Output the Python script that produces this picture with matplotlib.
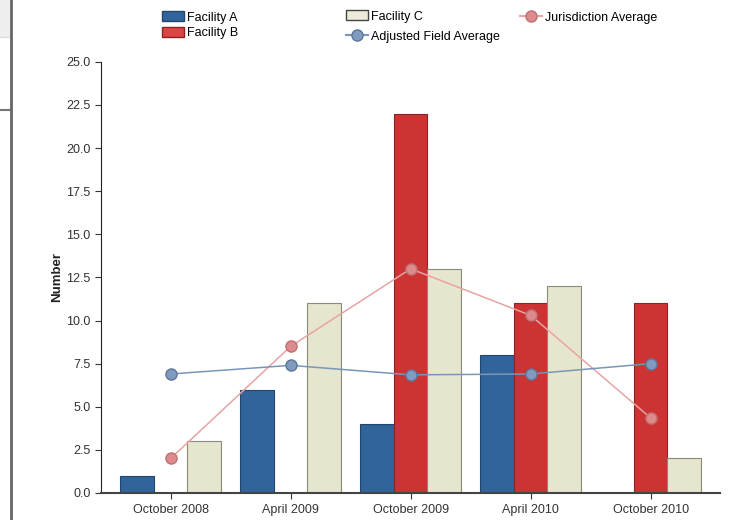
import numpy as np
import matplotlib
matplotlib.use("Agg")
import matplotlib.pyplot as plt
from matplotlib.patches import Patch, Rectangle
from matplotlib.lines import Line2D

plt.rcParams['font.family'] = ['Liberation Sans', 'DejaVu Sans']

periods = ['October 2008', 'April 2009', 'October 2009', 'April 2010', 'October 2010']
facility_a = [1, 6, 4, 8, 0]
facility_b = [0, 0, 22, 11, 11]
facility_c = [3, 11, 13, 12, 2]
jurisdiction_avg = [2.0, 8.5, 13.0, 10.3, 4.35]
field_avg = [6.9, 7.4, 6.85, 6.9, 7.5]
y_ticks = [0.0, 2.5, 5.0, 7.5, 10.0, 12.5, 15.0, 17.5, 20.0, 22.5, 25.0]

col_a = '#31649a'
col_b = '#cc3333'
col_c = '#e6e6cf'
col_jur = '#e8a3a3'
col_field = '#7896b8'

fig = plt.figure(figsize=(7.32, 5.2), dpi=100)
ax = fig.add_axes([0.138, 0.052, 0.846, 0.829])

x = np.arange(len(periods))
w = 0.28
ax.bar(x - w, facility_a, w, color=col_a, edgecolor='#23466e', linewidth=0.8, zorder=2)
ax.bar(x, facility_b, w, color=col_b, edgecolor='#8e2222', linewidth=0.8, zorder=2)
ax.bar(x + w, facility_c, w, color=col_c, edgecolor='#8a8a78', linewidth=0.8, zorder=2)

ax.plot(x, jurisdiction_avg, color=col_jur, linewidth=1.1, marker='o', markersize=8,
        markerfacecolor='#dc8a8c', markeredgecolor='#c07072', zorder=3)
ax.plot(x, field_avg, color=col_field, linewidth=1.1, marker='o', markersize=8,
        markerfacecolor='#7f9cc0', markeredgecolor='#5c7699', zorder=4)

ax.set_xlim(-0.58, 4.58)
ax.set_ylim(0, 25)
ax.set_yticks(y_ticks)
ax.set_yticklabels(['%.1f' % v for v in y_ticks])
ax.set_xticks(x)
ax.set_xticklabels(periods)
ax.tick_params(axis='both', labelsize=9, labelcolor='#333333', length=4, color='#333333')
ax.tick_params(axis='x', pad=4)
ax.set_ylabel('Number', fontsize=9.5, fontweight='bold', labelpad=2, color='#222222')

for side in ['top', 'right']:
    ax.spines[side].set_visible(False)
ax.spines['left'].set_color('#222222')
ax.spines['bottom'].set_color('#444444')
ax.spines['bottom'].set_linewidth(1.5)

# legends, laid out in three columns
h_a = Patch(facecolor=col_a, edgecolor='#23466e')
h_b = Patch(facecolor='#dd4444', edgecolor='#8e2222')
h_c = Patch(facecolor='#ececd8', edgecolor='#444444')
h_field = Line2D([], [], color=col_field, marker='o', markersize=8,
                 markerfacecolor='#7f9cc0', markeredgecolor='#5c7699')
h_jur = Line2D([], [], color=col_jur, marker='o', markersize=8,
               markerfacecolor='#dc8a8c', markeredgecolor='#c07072')

leg_kw = dict(frameon=False, fontsize=9, handlelength=1.8, handleheight=0.8,
              handletextpad=0.2, labelspacing=0.3, borderaxespad=0, borderpad=0)
fig.legend([h_a, h_b], ['Facility A', 'Facility B'], loc='upper left',
           bbox_to_anchor=(0.221, 0.978), **leg_kw)
fig.legend([h_c, h_field], ['Facility C', 'Adjusted Field Average'], loc='upper left',
           bbox_to_anchor=(0.472, 0.98), **dict(leg_kw, labelspacing=0.65))
fig.legend([h_jur], ['Jurisdiction Average'], loc='upper left',
           bbox_to_anchor=(0.710, 0.978), **leg_kw)

# page chrome on the left edge
fig.patches.append(Rectangle((0, 0.928), 0.0137, 0.072, transform=fig.transFigure,
                             facecolor='#eeeeee', edgecolor='none'))
fig.lines.append(Line2D([0, 0.0137], [0.928, 0.928], transform=fig.transFigure,
                        color='#dddddd', linewidth=1))
fig.lines.append(Line2D([0, 0.0137], [0.788, 0.788], transform=fig.transFigure,
                        color='#777777', linewidth=1.5))
fig.lines.append(Line2D([0.0145, 0.0145], [0, 1], transform=fig.transFigure,
                        color='#666666', linewidth=2))

fig.savefig('out.png', dpi=100)
